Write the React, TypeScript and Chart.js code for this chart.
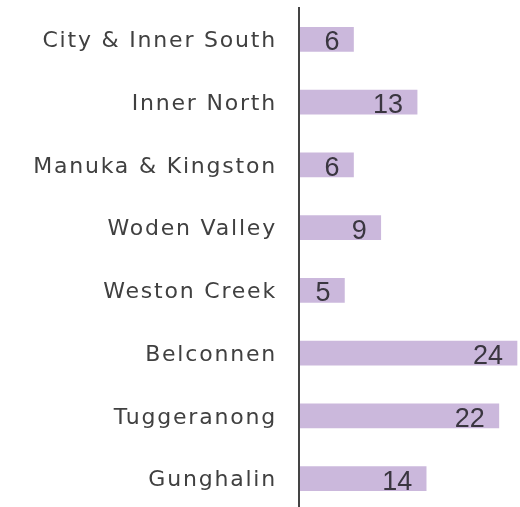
import React, { useEffect, useRef } from "react";
import { Chart, registerables } from "chart.js";

Chart.register(...registerables);

const categories = [
  "City & Inner South",
  "Inner North",
  "Manuka & Kingston",
  "Woden Valley",
  "Weston Creek",
  "Belconnen",
  "Tuggeranong",
  "Gunghalin",
];
const values = [6, 13, 6, 9, 5, 24, 22, 14];

const valueLabels = {
  id: "valueLabels",
  afterDatasetsDraw(chart: any) {
    const ctx = chart.ctx;
    const meta = chart.getDatasetMeta(0);
    ctx.save();
    ctx.letterSpacing = "0px";
    ctx.font = "27px 'Liberation Sans'";
    ctx.fillStyle = "#3a3640";
    ctx.textAlign = "right";
    ctx.textBaseline = "alphabetic";
    meta.data.forEach((el: any, i: number) => {
      ctx.fillText(String(values[i]), el.x - 14, el.y + 11);
    });
    ctx.restore();
  },
};

const LS = "1.8px";
const spacing = {
  id: "spacing",
  beforeUpdate(chart: any) {
    chart.ctx.letterSpacing = LS;
  },
  beforeLayout(chart: any) {
    chart.ctx.letterSpacing = LS;
  },
  beforeDraw(chart: any) {
    chart.ctx.letterSpacing = LS;
  },
};

export default function App() {
  const ref = useRef<HTMLCanvasElement>(null);

  useEffect(() => {
    document.body.style.margin = "0";
    document.body.style.overflow = "hidden";
    const canvas = ref.current!;
    const chart = new Chart(canvas, {
      type: "bar",
      data: {
        labels: categories,
        datasets: [
          {
            data: values,
            backgroundColor: "#cbb8dc",
            barThickness: 24,
          },
        ],
      },
      options: {
        indexAxis: "y",
        animation: false,
        responsive: false,
        layout: { padding: { top: 8, bottom: 1, left: 0, right: 0 } },
        plugins: {
          legend: { display: false },
          tooltip: { enabled: false },
        },
        scales: {
          x: { display: false, min: 0, max: 24.33 },
          y: {
            grid: { display: false, drawTicks: true, tickLength: 22 },
            border: { display: true, color: "#444444", width: 2, z: 1 },
            ticks: {
              font: { family: "'DejaVu Sans'", size: 22 },
              color: "#404040",
              padding: 0,
              labelOffset: 2,
              autoSkip: false,
            },
            afterFit(scale: any) {
              scale.width = 299;
              scale.paddingTop = 0;
              scale.paddingBottom = 0;
            },
          },
        },
      },
      plugins: [spacing, valueLabels],
    } as any);
    return () => chart.destroy();
  }, []);

  return (
    <div style={{ width: 520, height: 511 }}>
      <canvas ref={ref} width={520} height={511} style={{ display: "block" }} />
    </div>
  );
}
